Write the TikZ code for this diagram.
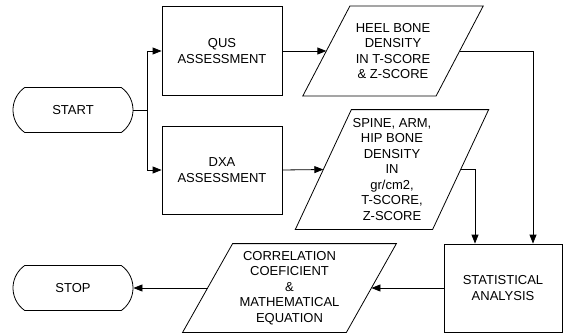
\documentclass[tikz,border=0pt]{standalone}
\usepackage{fontspec}
\setmainfont{Liberation Sans}
\usetikzlibrary{arrows.meta,shapes.misc,calc}
\begin{document}
\begin{tikzpicture}[x=1pt,y=1pt,
  font=\fontsize{13}{15.5}\selectfont,
  line width=0.8pt,
  arr/.style={-{Triangle[length=9pt,width=7pt]}},
  term/.style={draw,rounded rectangle,rounded rectangle arc length=110,minimum width=120pt,minimum height=45pt,inner sep=0pt},
  procbox/.style={draw,rectangle,align=center,inner sep=0pt},
  iobox/.style={rectangle,align=center,inner sep=0pt}]
\useasboundingbox (0,0) rectangle (563,333);
% terminals
\node[term] (start) at (73,223) {START};
\node[term] (stop) at (73,45) {STOP};
% process boxes
\node[procbox,minimum width=120pt,minimum height=89pt] (qus) at (222,282) {QUS\\ASSESSMENT};
\node[procbox,minimum width=120pt,minimum height=88pt] (dxa) at (222,163) {DXA\\ASSESSMENT};
\node[procbox,minimum width=118pt,minimum height=88pt] (stat) at (503,45) {STATISTICAL\\ANALYSIS};
% io boxes (parallelograms)
\node[iobox,minimum width=132.5pt,minimum height=89pt] (heel) at (393,282) {HEEL BONE\\DENSITY\\IN T-SCORE\\\& Z-SCORE};
\draw ([xshift=23.5pt]heel.north west) -- ([xshift=23.5pt]heel.north east) -- ([xshift=-23.5pt]heel.south east) -- ([xshift=-23.5pt]heel.south west) -- cycle;
\node[iobox,minimum width=136.5pt,minimum height=119pt] (spine) at (392,163.5) {SPINE, ARM,\\HIP BONE\\DENSITY\\IN\\gr/cm2,\\T-SCORE,\\Z-SCORE};
\draw ([xshift=28pt]spine.north west) -- ([xshift=28pt]spine.north east) -- ([xshift=-28pt]spine.south east) -- ([xshift=-28pt]spine.south west) -- cycle;
\node[iobox,minimum width=163pt,minimum height=88pt] (corr) at (289.5,45) {CORRELATION\\COEFICIENT\\\&\\MATHEMATICAL\\EQUATION};
\draw ([xshift=25pt]corr.north west) -- ([xshift=25pt]corr.north east) -- ([xshift=-25pt]corr.south east) -- ([xshift=-25pt]corr.south west) -- cycle;
% connectors
\coordinate (j) at (147,223);
\draw (start.east) -- (j);
\draw[arr] (j) |- (qus.west);
\draw[arr] (j) |- (dxa.west);
\draw[arr] (qus.east) -- (heel.west);
\draw[arr] (dxa.east) -- (spine.west);
\draw[arr] (heel.east) -| ([xshift=30pt]stat.north);
\draw[arr] (spine.east) -| ([xshift=-28pt]stat.north);
\draw[arr] (stat.west) -- (corr.east);
\draw[arr] (corr.west) -- (stop.east);
\end{tikzpicture}
\end{document}
